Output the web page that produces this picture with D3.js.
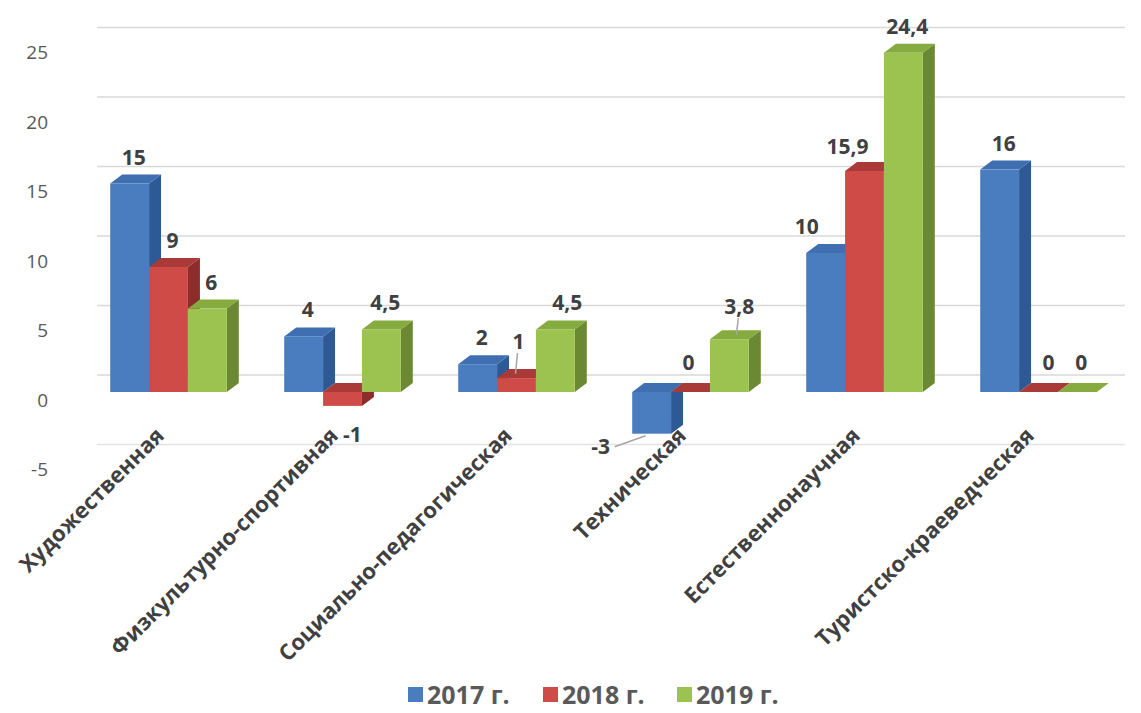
<!DOCTYPE html>
<html><head><meta charset="utf-8">
<script src="https://cdn.jsdelivr.net/npm/d3@7/dist/d3.min.js"></script>
<style>html,body{margin:0;padding:0;background:#fff;}svg{display:block;}</style>
</head><body>
<svg id="chart" width="1141" height="713"></svg>
<script>
// ---- data ----
const categories = ["Художественная","Физкультурно-спортивная","Социально-педагогическая","Техническая","Естественнонаучная","Туристско-краеведческая"];
const seriesNames = ["2017 г.","2018 г.","2019 г."];
const values2017 = [15, 4, 2, -3, 10, 16];
const values2018 = [9, -1, 1, 0, 15.9, 0];
const values2019 = [6, 4.5, 4.5, 3.8, 24.4, 0];
const yTicks = [-5, 0, 5, 10, 15, 20, 25];

const seriesValues = [values2017, values2018, values2019];
const faceColors = [
  {front:"#4a7cc0", top:"#3f6fb0", side:"#2d5a95"},
  {front:"#cf4b47", top:"#a93a37", side:"#8c2d2b"},
  {front:"#9cc24f", top:"#86ab3f", side:"#6a8932"}
];
// label nudges (dx, dy) keyed "series-category"
const labelNudge = {"0-4":[-23,0], "1-4":[-21,2], "1-2":[-2,-10], "2-2":[8,0], "2-3":[6,-6], "1-5":[6,-3], "1-3":[-6,-3], "2-5":[0,-3]};
const leaders = {"1-2":true, "2-3":true, "0-3":true};

const svg = d3.select("#chart");
const font = "'Open Sans', sans-serif";
const depthX = 12, depthY = -9, wallY = -17;

const x0 = d3.scaleBand().domain(categories).range([81.5, 1125.5]).paddingInner(0.33).paddingOuter(0.165);
const x1 = d3.scaleBand().domain(d3.range(3)).range([0, x0.bandwidth()]).padding(0);
const y = d3.scaleLinear().domain([-5, 25]).range([392 + 5*13.9, 392 - 25*13.9]);

// gridlines on back wall
svg.append("g").selectAll("line").data(yTicks).join("line")
  .attr("x1", 97).attr("x2", 1125)
  .attr("y1", d => y(d) + wallY).attr("y2", d => y(d) + wallY)
  .attr("stroke", d => d < 0 ? "#e3e3e3" : "#d9d9d9").attr("stroke-width", 1.6);

// y axis labels
svg.append("g").selectAll("text").data(yTicks).join("text")
  .attr("x", 48).attr("y", d => y(d) + 8).attr("dy", "0.35em")
  .attr("text-anchor", "end").attr("font-family", font).attr("font-size", 19)
  .attr("fill", "#595959").text(d => d);

// bars
const bars = svg.append("g");
categories.forEach((cat, ci) => {
  seriesValues.forEach((vals, si) => {
    const v = vals[ci];
    const xa = x0(cat) + x1(si), xb = xa + x1.bandwidth();
    const yt = Math.min(y(0), y(v)), yb = Math.max(y(0), y(v));
    const c = faceColors[si];
    const g = bars.append("g");
    g.append("path").attr("fill", c.side)
      .attr("d", `M${xb},${yt}L${xb+depthX},${yt+depthY}L${xb+depthX},${yb+depthY}L${xb},${yb}Z`);
    g.append("path").attr("fill", c.top)
      .attr("d", `M${xa},${yt}L${xb},${yt}L${xb+depthX},${yt+depthY}L${xa+depthX},${yt+depthY}Z`);
    g.append("rect").attr("fill", c.front)
      .attr("x", xa).attr("y", yt).attr("width", xb - xa).attr("height", yb - yt);
  });
});

// value labels
const fmt = v => String(v).replace(".", ",");
const labels = svg.append("g");
categories.forEach((cat, ci) => {
  seriesValues.forEach((vals, si) => {
    const v = vals[ci];
    const cx = x0(cat) + x1(si) + x1.bandwidth()/2;
    const key = si + "-" + ci;
    let lx, ly;
    if (v >= 0) {
      lx = cx + 4; ly = y(v) - 19;
    } else if (si === 1) {
      lx = cx + 10; ly = y(v) + 36;
    } else {
      lx = cx - 51; ly = y(v) + 20;
    }
    const n = labelNudge[key];
    if (n) { lx += n[0]; ly += n[1]; }
    if (leaders[key]) {
      let p;
      if (v >= 0) p = [[lx - 1, ly + 4], [lx - 3, y(v) + depthY/2]];
      else p = [[lx + 14, ly - 7], [cx - 6, y(v) + 2]];
      labels.append("line").attr("x1", p[0][0]).attr("y1", p[0][1]).attr("x2", p[1][0]).attr("y2", p[1][1])
        .attr("stroke", "#a6a6a6").attr("stroke-width", 1.5);
    }
    labels.append("text").attr("x", lx).attr("y", ly).attr("text-anchor", "middle")
      .attr("font-family", font).attr("font-weight", 700).attr("font-size", 21)
      .attr("fill", "#404040").text(fmt(v));
  });
});

// category labels
svg.append("g").selectAll("text").data(categories).join("text")
  .attr("transform", d => `translate(${x0(d) + x0.bandwidth()/2 - 3},437) rotate(-45)`)
  .attr("text-anchor", "end").attr("font-family", font).attr("font-weight", 700)
  .attr("font-size", 22).attr("fill", "#404040").text(d => d);

// legend
const legendX = [408, 543, 677];
const lg = svg.append("g");
seriesNames.forEach((name, i) => {
  lg.append("rect").attr("x", legendX[i]).attr("y", 687).attr("width", 15).attr("height", 15).attr("fill", faceColors[i].front);
  lg.append("text").attr("x", legendX[i] + 19).attr("y", 695).attr("dy", "0.35em")
    .attr("font-family", font).attr("font-weight", 700).attr("font-size", 25).attr("fill", "#595959").text(name);
});
</script>
</body></html>
